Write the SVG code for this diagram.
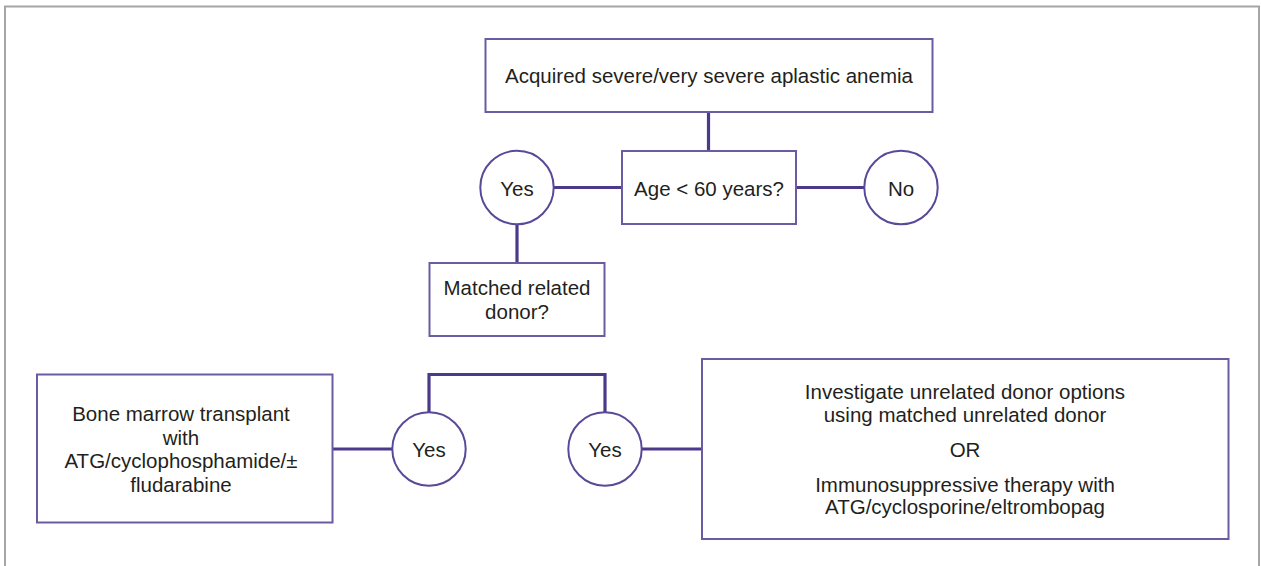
<svg xmlns="http://www.w3.org/2000/svg" width="1261" height="566" viewBox="0 0 1261 566">
<style>
.frame{fill:none;stroke:#a6a6a6;stroke-width:2}
.box{fill:#fff;stroke:#6b5ba3;stroke-width:2}
.circ{fill:#fff;stroke:#5a4898;stroke-width:2}
.conn{fill:none;stroke:#4b3a8c;stroke-width:3.2}
text{font-family:"Liberation Sans",Arial,Helvetica,sans-serif;font-size:20.5px;fill:#231f20;text-anchor:middle}
</style>
<rect x="0" y="0" width="1261" height="566" fill="#fff"/>
<rect class="frame" x="5" y="6.5" width="1254" height="620"/>
<g id="connectors">
<line class="conn" x1="708.5" y1="112" x2="708.5" y2="151"/>
<line class="conn" x1="554" y1="187.5" x2="622" y2="187.5"/>
<line class="conn" x1="796" y1="187.5" x2="864" y2="187.5"/>
<line class="conn" x1="517" y1="224.5" x2="517" y2="263"/>
<polyline class="conn" points="429,412 429,374.5 605,374.5 605,412"/>
<line class="conn" x1="332" y1="449" x2="392" y2="449"/>
<line class="conn" x1="642" y1="449" x2="702" y2="449"/>
</g>
<g id="n-start">
<rect class="box" x="485.5" y="39" width="447" height="73"/>
<text x="709" y="82.5">Acquired severe/very severe aplastic anemia</text>
</g>
<g id="n-age">
<rect class="box" x="622" y="151" width="174" height="73"/>
<text x="709" y="195.5">Age &lt; 60 years?</text>
</g>
<g id="n-yes1">
<circle class="circ" cx="517" cy="187.5" r="36.7"/>
<text x="517" y="195.5">Yes</text>
</g>
<g id="n-no">
<circle class="circ" cx="901" cy="187.5" r="36.7"/>
<text x="901" y="195.5">No</text>
</g>
<g id="n-matched">
<rect class="box" x="429.5" y="263" width="175" height="73"/>
<text x="517" y="295">Matched related</text>
<text x="517" y="318.5">donor?</text>
</g>
<g id="n-yes2">
<circle class="circ" cx="429" cy="449" r="36.7"/>
<text x="429" y="457">Yes</text>
</g>
<g id="n-yes3">
<circle class="circ" cx="605" cy="449" r="36.7"/>
<text x="605" y="457">Yes</text>
</g>
<g id="n-bmt">
<rect class="box" x="37" y="374.5" width="295.5" height="148"/>
<text x="181" y="421">Bone marrow transplant</text>
<text x="181" y="444.5">with</text>
<text x="181" y="468">ATG/cyclophosphamide/±</text>
<text x="181" y="491.5">fludarabine</text>
</g>
<g id="n-unrelated">
<rect class="box" x="702" y="359" width="526.5" height="180"/>
<text x="965" y="399">Investigate unrelated donor options</text>
<text x="965" y="421.5">using matched unrelated donor</text>
<text x="965" y="456.5">OR</text>
<text x="965" y="491.5">Immunosuppressive therapy with</text>
<text x="965" y="514">ATG/cyclosporine/eltrombopag</text>
</g>
</svg>
